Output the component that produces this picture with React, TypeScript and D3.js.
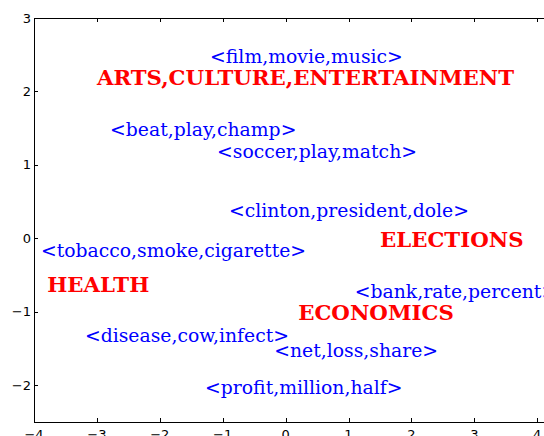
import * as d3 from "d3";
import { useEffect, useRef } from "react";

const W = 544;
const H = 436;

const xTicks = [-4, -3, -2, -1, 0, 1, 2, 3, 4];
const yTicks = [-2, -1, 0, 1, 2, 3];

// word triples (blue) and topic names (red), placed at their data coords
const wordLabels = [
  "<film,movie,music>",
  "<beat,play,champ>",
  "<soccer,play,match>",
  "<clinton,president,dole>",
  "<tobacco,smoke,cigarette>",
  "<bank,rate,percent>",
  "<disease,cow,infect>",
  "<net,loss,share>",
  "<profit,million,half>",
];
const wordX = [-1.2, -2.79, -1.09, -0.9, -3.89, 1.1, -3.19, -0.18, -1.28];
const wordY = [2.4, 1.41, 1.11, 0.3, -0.24, -0.8, -1.4, -1.6, -2.1];

const topicLabels = ["ARTS,CULTURE,ENTERTAINMENT", "ELECTIONS", "HEALTH", "ECONOMICS"];
const topicX = [-3.0, 1.5, -3.79, 0.2];
const topicY = [2.1, -0.11, -0.71, -1.1];

const fmt = (v: number) => (v < 0 ? "\u2212" + Math.abs(v) : String(v));

export default function App() {
  const ref = useRef<SVGSVGElement | null>(null);

  useEffect(() => {
    const svg = d3.select(ref.current);
    svg.selectAll("*").remove();

    const x = d3.scaleLinear().domain([-4, 4.5]).range([34, 34 + 8.5 * 62.9]);
    const y = d3.scaleLinear().domain([-2.5, 3]).range([422, 18]);

    const [x0, x1] = x.range();
    const [y0, y1] = y.range();

    // spines
    const frame = svg.append("g").attr("stroke", "#000").attr("fill", "none");
    frame.append("line").attr("x1", x0 + 0.5).attr("x2", x0 + 0.5).attr("y1", y1).attr("y2", y0 + 0.5);
    frame.append("line").attr("x1", x0).attr("x2", x1).attr("y1", y1 + 0.5).attr("y2", y1 + 0.5);
    frame.append("line").attr("x1", x0).attr("x2", x1).attr("y1", y0 + 0.5).attr("y2", y0 + 0.5);

    // inward ticks
    const ticks = svg.append("g").attr("stroke", "#000").attr("stroke-width", 1);
    xTicks.forEach((t) => {
      const px = Math.round(x(t)) + 0.5;
      ticks.append("line").attr("x1", px).attr("x2", px).attr("y1", y0).attr("y2", y0 - 4);
      ticks.append("line").attr("x1", px).attr("x2", px).attr("y1", y1).attr("y2", y1 + 4);
    });
    yTicks.forEach((t) => {
      const py = Math.round(y(t)) + 0.5;
      ticks.append("line").attr("x1", x0).attr("x2", x0 + 4).attr("y1", py).attr("y2", py);
    });

    const tickFont = "DejaVu Sans, sans-serif";
    svg
      .append("g")
      .selectAll("text")
      .data(xTicks)
      .join("text")
      .attr("x", (d) => x(d))
      .attr("y", y0 + 17)
      .attr("text-anchor", "middle")
      .attr("font-family", tickFont)
      .attr("font-size", 13)
      .text((d) => fmt(d));

    svg
      .append("g")
      .selectAll("text")
      .data(yTicks)
      .join("text")
      .attr("x", x0 - 3)
      .attr("y", (d) => y(d))
      .attr("dy", "0.35em")
      .attr("text-anchor", "end")
      .attr("font-family", tickFont)
      .attr("font-size", 13)
      .text((d) => fmt(d));

    svg
      .append("g")
      .selectAll("text")
      .data(wordLabels)
      .join("text")
      .attr("x", (_, i) => x(wordX[i]))
      .attr("y", (_, i) => y(wordY[i]) + 1)
      .attr("fill", "#0000ff")
      .attr("font-family", "DejaVu Serif, serif")
      .attr("font-size", 18.8)
      .text((d) => d);

    svg
      .append("g")
      .selectAll("text")
      .data(topicLabels)
      .join("text")
      .attr("x", (_, i) => x(topicX[i]))
      .attr("y", (_, i) => y(topicY[i]) + 1)
      .attr("fill", "#ff0000")
      .attr("font-family", "DejaVu Serif, serif")
      .attr("font-weight", "bold")
      .attr("font-size", 21.3)
      .text((d) => d);
  }, []);

  return (
    <div style={{ position: "fixed", left: 0, top: 0, width: W, height: H, overflow: "hidden", background: "#fff" }}>
      <svg ref={ref} width={W} height={H}></svg>
    </div>
  );
}
